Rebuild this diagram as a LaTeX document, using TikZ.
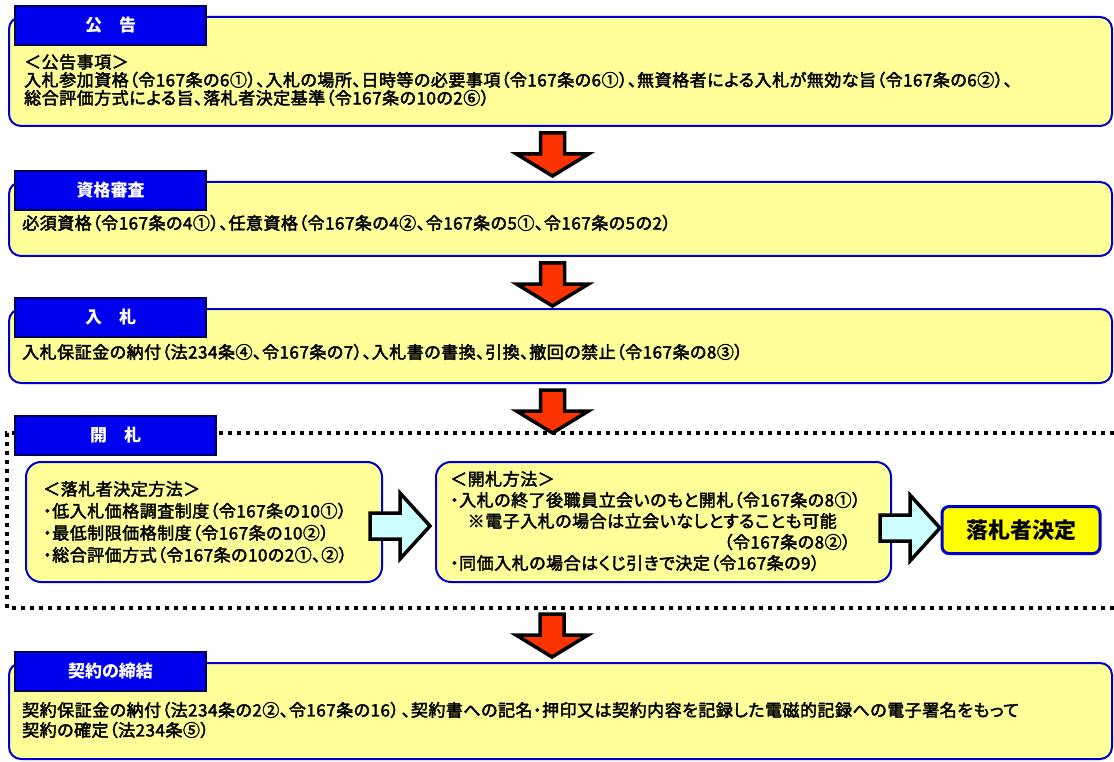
\documentclass[tikz,border=0pt]{standalone}
\usepackage{fontspec}
\setmainfont[RawFeature=+palt]{Noto Sans CJK JP}
\newfontfamily\bodyfont[RawFeature=+palt,FakeBold=2.5,LetterSpace=3]{Noto Sans CJK JP}
\usetikzlibrary{calc}
\definecolor{byel}{HTML}{FFFF99}
\definecolor{bblue}{HTML}{0000CC}
\definecolor{hblue}{HTML}{0000EE}
\definecolor{hnavy}{HTML}{000055}
\definecolor{ared}{HTML}{FF3300}
\definecolor{acyan}{HTML}{CCFFFF}
\definecolor{kyel}{HTML}{FFFF00}
\tikzset{
  downarr/.pic={\draw[line width=3.5pt, fill=ared, line join=miter]
     (-12,6) -- (12,6) -- (12,27) -- (36,27) -- (0,49) -- (-36,27) -- (-12,27) -- cycle;},
  rightarr/.pic={\draw[line width=3.5pt, fill=acyan, line join=miter]
     (0,-13) -- (30,-13) -- (30,-33) -- (60,0) -- (30,33) -- (30,13) -- (0,13) -- cycle;}
}
\begin{document}
\begin{tikzpicture}[x=1pt,y=-1pt,
  ybox/.style={draw=bblue, fill=byel, line width=2pt, rounded corners=12pt, inner sep=0pt, anchor=north west},
  hdr/.style={draw=hnavy, fill=hblue, line width=2pt, inner sep=0pt, anchor=north west,
     minimum width=191pt, minimum height=39pt, text=white, font=\bfseries\fontsize{17}{20}\selectfont},
  txt/.style={anchor=west, inner sep=0pt, font=\bodyfont\fontsize{17}{18}\selectfont, align=left},
  dotframe/.style={line width=4pt, dash pattern=on 4pt off 5pt},
  kbox/.style={draw=bblue, fill=kyel, line width=3pt, rounded corners=7pt, inner sep=0pt,
     minimum width=158pt, minimum height=47pt, font=\bfseries\fontsize{22}{26}\selectfont}
]
\useasboundingbox[fill=white] (0,0) rectangle (1114,762);

% --- 公告
\node[ybox, minimum width=1103pt, minimum height=109pt] (b1) at (8,16) {};
\node[hdr] (h1) at (14,5) {公　告};
\node[txt, font=\bodyfont\fontsize{17}{18}\selectfont] (t1) at (24,80) {＜公告事項＞\\
入札参加資格（令167条の6①）、入札の場所、日時等の必要事項（令167条の6①）、無資格者による入札が無効な旨（令167条の6②）、\\
総合評価方式による旨、落札者決定基準（令167条の10の2⑥）};

% --- 資格審査
\node[ybox, minimum width=1103pt, minimum height=74pt] (b2) at (8,181) {};
\node[hdr] (h2) at (14,170) {資格審査};
\node[txt] (t2) at (22,223) {必須資格（令167条の4①）、任意資格（令167条の4②、令167条の5①、令167条の5の2）};

% --- 入札
\node[ybox, minimum width=1103pt, minimum height=74pt] (b3) at (8,308) {};
\node[hdr] (h3) at (14,297) {入　札};
\node[txt] (t3) at (22,352) {入札保証金の納付（法234条④、令167条の7）、入札書の書換、引換、撤回の禁止（令167条の8③）};

% --- 開札
\draw[dotframe] (1114,433) -- (7,433) -- (7,608) -- (1114,608);
\coordinate (fb) at (552,608);
\node[hdr, minimum width=201pt] (h4) at (14,415) {開　札};

\node[ybox, rounded corners=15pt, minimum width=356pt, minimum height=120pt] (L) at (25,461) {};
\node[txt, font=\bodyfont\fontsize{17}{22}\selectfont] (tL) at (43,522) {＜落札者決定方法＞\\
・低入札価格調査制度（令167条の10①）\\
・最低制限価格制度（令167条の10②）\\
・総合評価方式（令167条の10の2①、②）};

\node[ybox, rounded corners=15pt, minimum width=455pt, minimum height=120pt] (M) at (435,461) {};
\node[txt] (m1) at (450,479) {＜開札方法＞};
\node[txt] (m2) at (450,500) {・入札の終了後職員立会いのもと開札（令167条の8①）};
\node[txt] (m3) at (450,521) {　※電子入札の場合は立会いなしとすることも可能};
\node[txt, anchor=east] (m4) at ([xshift=-10pt]m2.east |- 0,542) {（令167条の8②）};
\node[txt] (m5) at (450,563) {・同価入札の場合はくじ引きで決定（令167条の9）};

\node[kbox] (K) at (1021,530) {落札者決定};

\pic at ([xshift=-13pt,yshift=-4pt]L.east) {rightarr};
\pic at ([xshift=-12pt,yshift=-6pt]M.east) {rightarr};

% --- 契約の締結
\node[ybox, minimum width=1103pt, minimum height=96pt] (b5) at (8,662) {};
\node[hdr] (h5) at (14,651) {契約の締結};
\node[txt, font=\bodyfont\fontsize{17}{20}\selectfont] (t5) at (22,720) {契約保証金の納付（法234条の2②、令167条の16）\,、契約書への記名・押印又は契約内容を記録した電磁的記録への電子署名をもって\\
契約の確定（法234条⑤）};

% --- flow arrows
\pic at ([xshift=-8pt]b1.south) {downarr};
\pic at ([xshift=-8pt]b2.south) {downarr};
\pic at ([xshift=-8pt]b3.south) {downarr};
\pic at (fb) {downarr};
\end{tikzpicture}
\end{document}
